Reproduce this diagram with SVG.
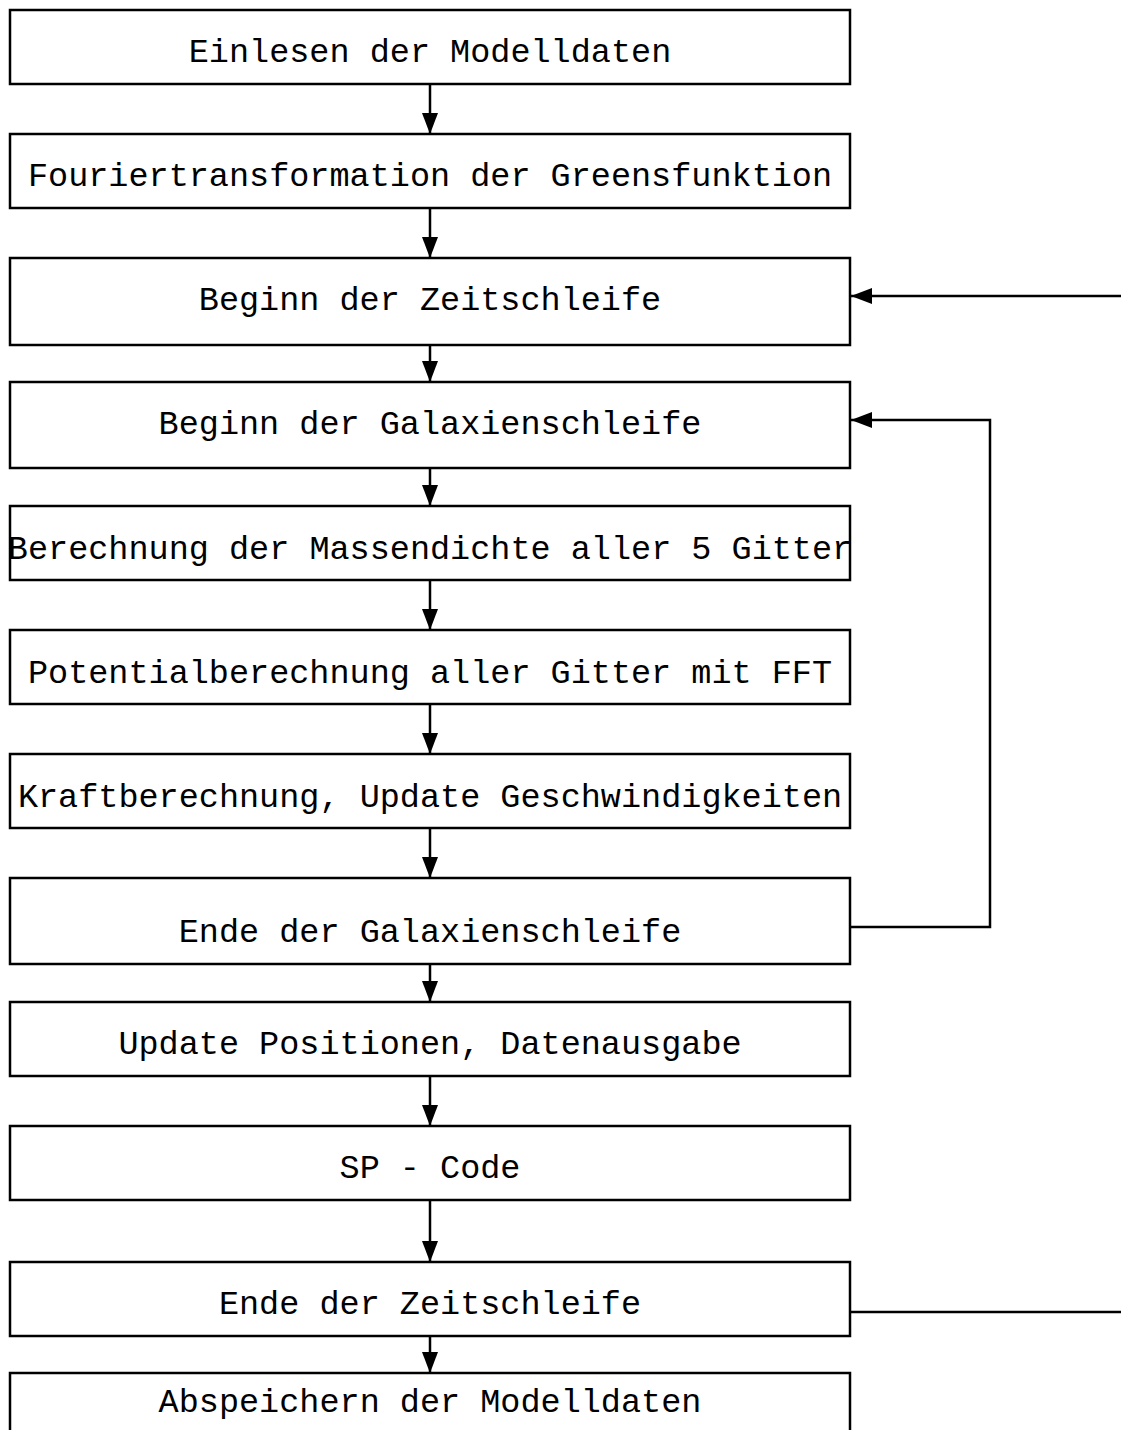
<svg xmlns="http://www.w3.org/2000/svg" width="1121" height="1430" viewBox="0 0 1121 1430">
<style>
.box{fill:#fff;stroke:#000;stroke-width:2.5}
.lbl{font-family:"Liberation Mono","Courier New",monospace;font-size:33.5px;text-anchor:middle;fill:#000}
.con{fill:none;stroke:#000;stroke-width:2.5}
</style>
<defs>
<marker id="ah" markerUnits="userSpaceOnUse" markerWidth="22" markerHeight="16" refX="21" refY="8" orient="auto">
<path d="M0,0 L21,8 L0,16 Z" fill="#000"/>
</marker>
</defs>
<rect width="1121" height="1430" fill="#fff"/>
<g id="connectors">
<line class="con" x1="430" y1="84" x2="430" y2="134" marker-end="url(#ah)"/>
<line class="con" x1="430" y1="208" x2="430" y2="258" marker-end="url(#ah)"/>
<line class="con" x1="430" y1="345" x2="430" y2="382" marker-end="url(#ah)"/>
<line class="con" x1="430" y1="468" x2="430" y2="506" marker-end="url(#ah)"/>
<line class="con" x1="430" y1="580" x2="430" y2="630" marker-end="url(#ah)"/>
<line class="con" x1="430" y1="704" x2="430" y2="754" marker-end="url(#ah)"/>
<line class="con" x1="430" y1="828" x2="430" y2="878" marker-end="url(#ah)"/>
<line class="con" x1="430" y1="964" x2="430" y2="1002" marker-end="url(#ah)"/>
<line class="con" x1="430" y1="1076" x2="430" y2="1126" marker-end="url(#ah)"/>
<line class="con" x1="430" y1="1200" x2="430" y2="1262" marker-end="url(#ah)"/>
<line class="con" x1="430" y1="1336" x2="430" y2="1373" marker-end="url(#ah)"/>
<polyline class="con" points="850,927 990,927 990,420 851,420" marker-end="url(#ah)"/>
<line class="con" x1="1121" y1="296" x2="851" y2="296" marker-end="url(#ah)"/>
<line class="con" x1="850" y1="1312" x2="1121" y2="1312"/>
</g>
<g id="n1"><rect class="box" x="10" y="10" width="840" height="74"/><text class="lbl" x="430" y="62">Einlesen der Modelldaten</text></g>
<g id="n2"><rect class="box" x="10" y="134" width="840" height="74"/><text class="lbl" x="430" y="186">Fouriertransformation der Greensfunktion</text></g>
<g id="n3"><rect class="box" x="10" y="258" width="840" height="87"/><text class="lbl" x="430" y="310">Beginn der Zeitschleife</text></g>
<g id="n4"><rect class="box" x="10" y="382" width="840" height="86"/><text class="lbl" x="430" y="434">Beginn der Galaxienschleife</text></g>
<g id="n5"><rect class="box" x="10" y="506" width="840" height="74"/><text class="lbl" x="430" y="559">Berechnung der Massendichte aller 5 Gitter</text></g>
<g id="n6"><rect class="box" x="10" y="630" width="840" height="74"/><text class="lbl" x="430" y="683">Potentialberechnung aller Gitter mit FFT</text></g>
<g id="n7"><rect class="box" x="10" y="754" width="840" height="74"/><text class="lbl" x="430" y="807">Kraftberechnung, Update Geschwindigkeiten</text></g>
<g id="n8"><rect class="box" x="10" y="878" width="840" height="86"/><text class="lbl" x="430" y="942">Ende der Galaxienschleife</text></g>
<g id="n9"><rect class="box" x="10" y="1002" width="840" height="74"/><text class="lbl" x="430" y="1054">Update Positionen, Datenausgabe</text></g>
<g id="n10"><rect class="box" x="10" y="1126" width="840" height="74"/><text class="lbl" x="430" y="1178">SP - Code</text></g>
<g id="n11"><rect class="box" x="10" y="1262" width="840" height="74"/><text class="lbl" x="430" y="1314">Ende der Zeitschleife</text></g>
<g id="n12"><rect class="box" x="10" y="1373" width="840" height="80"/><text class="lbl" x="430" y="1412">Abspeichern der Modelldaten</text></g>
</svg>
